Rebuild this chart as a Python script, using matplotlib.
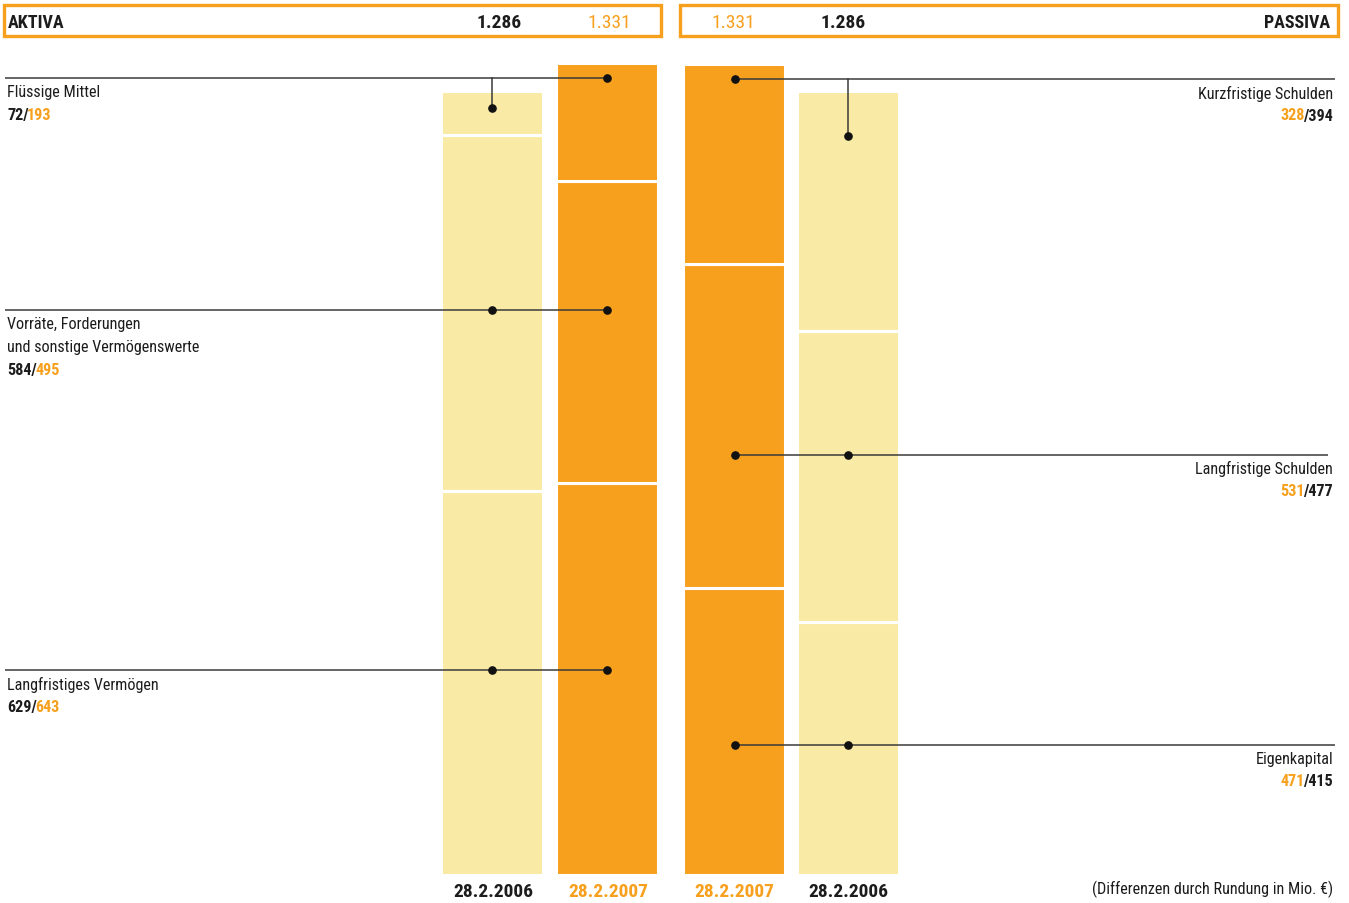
import matplotlib
matplotlib.use('Agg')
import matplotlib.pyplot as plt
from matplotlib.patches import Rectangle
from matplotlib import font_manager as fm

# ---------------- data ----------------
aktiva_items = ['Langfristiges Vermögen',
                'Vorräte, Forderungen\nund sonstige Vermögenswerte',
                'Flüssige Mittel']
aktiva_2006 = [629, 584, 72]
aktiva_2007 = [643, 495, 193]

passiva_items = ['Eigenkapital', 'Langfristige Schulden', 'Kurzfristige Schulden']
passiva_2007 = [471, 531, 328]
passiva_2006 = [415, 477, 394]

total_2006 = 1286
total_2007 = 1331
date_2006 = '28.2.2006'
date_2007 = '28.2.2007'
footer = '(Differenzen durch Rundung in Mio. €)'

# ---------------- style ----------------
W, H = 1349, 904
DPI = 100
ORANGE = '#F7A01D'
PALE = '#F9EBA5'
DARK = '#1c1c1c'
LINE = '#3a3a3a'

names = {f.name for f in fm.fontManager.ttflist}
cands = ['Roboto Condensed', 'Liberation Sans Narrow', 'Open Sans Condensed',
         'Noto Sans Condensed', 'DejaVu Sans']
FONT = [c for c in cands if c in names] or ['DejaVu Sans']
plt.rcParams['font.family'] = FONT
plt.rcParams['font.stretch'] = 'condensed'


def de(v):
    return f'{v:,}'.replace(',', '.')


fig = plt.figure(figsize=(W / DPI, H / DPI), dpi=DPI)
fig.patch.set_facecolor('white')

# bar axes: x in layout pixels, y in Mio. EUR
base_px = 876
px_per_unit = 0.61
ax = fig.add_axes([0, 0, 1, 1])
ax.set_xlim(0, W)
ax.set_ylim(-(H - base_px) / px_per_unit, base_px / px_per_unit)
ax.axis('off')

centers = [491.5, 606.5, 733.5, 847.5]
series = [(aktiva_2006, PALE), (aktiva_2007, ORANGE),
          (passiva_2007, ORANGE), (passiva_2006, PALE)]
for xc, (vals, col) in zip(centers, series):
    bottom = 0
    for v in vals:
        ax.bar(xc, v, bottom=bottom, width=102, color=col,
               edgecolor='white', linewidth=2.2, zorder=1)
        bottom += v

# overlay axes in pixel layout coords
lay = fig.add_axes([0, 0, 1, 1])
lay.set_xlim(0, W)
lay.set_ylim(H, 0)
lay.axis('off')
lay.patch.set_alpha(0)

# header boxes
for x0, x1 in [(3.5, 661), (680, 1338)]:
    lay.add_patch(Rectangle((x0, 5.5), x1 - x0, 31, fill=False,
                            edgecolor=ORANGE, linewidth=2.4))
hy = 23
HS = 14
WS = 13
lay.text(8, hy, 'AKTIVA', ha='left', va='center', fontsize=WS,
         fontweight='bold', color=DARK)
lay.text(499, hy, de(total_2006), ha='center', va='center', fontsize=HS,
         fontweight='bold', color=DARK)
lay.text(609, hy, de(total_2007), ha='center', va='center', fontsize=HS,
         color=ORANGE)
lay.text(733, hy, de(total_2007), ha='center', va='center', fontsize=HS,
         color=ORANGE)
lay.text(843, hy, de(total_2006), ha='center', va='center', fontsize=HS,
         fontweight='bold', color=DARK)
lay.text(1330, hy, 'PASSIVA', ha='right', va='center', fontsize=WS,
         fontweight='bold', color=DARK)

# date labels
DS = 14
for xc, lab, col in zip([493, 608, 734, 848],
                        [date_2006, date_2007, date_2007, date_2006],
                        [DARK, ORANGE, ORANGE, DARK]):
    lay.text(xc, 892, lab, ha='center', va='center', fontsize=DS,
             fontweight='bold', color=col)

LS = 11.6
lay.text(1333, 889.5, footer, ha='right', va='center', fontsize=LS, color=DARK)


def dot(x, y):
    lay.plot([x], [y], 'o', color='#111111', markersize=5.2, zorder=5)


def hline(x0, x1, y):
    lay.plot([x0, x1], [y, y], color=LINE, linewidth=1.1, zorder=4,
             solid_capstyle='butt')


def vline(x, y0, y1):
    lay.plot([x, x], [y0, y1], color=LINE, linewidth=1.1, zorder=4)


# ---- Aktiva callouts ----
akt_line_y = [670.5, 310.5, 78.5]
akt_dot2006_y = [670.5, 310.5, 109]
for name, v06, v07, ly, dy in zip(aktiva_items, aktiva_2006, aktiva_2007,
                                   akt_line_y, akt_dot2006_y):
    hline(5, 607, ly)
    if dy != ly:
        vline(492, ly, dy)
    dot(492, dy)
    dot(607, ly)
    nlines = name.count('\n') + 1
    ty = ly + 14
    for i, part in enumerate(name.split('\n')):
        lay.text(7, ty + 23 * i, part, ha='left', va='center', fontsize=LS,
                 color=DARK)
    vy = ty + 23 * nlines
    t1 = lay.text(7, vy, f'{v06}/', ha='left', va='center', fontsize=LS,
                  fontweight='bold', color=DARK)
    lay.annotate(f'{v07}', xy=(1, 0), xycoords=t1, xytext=(-1, 0),
                 textcoords='offset points', ha='left', va='bottom',
                 fontsize=LS, fontweight='bold', color=ORANGE)

# ---- Passiva callouts ----
pas_line_y = [746, 455.5, 80]
pas_dot2006_y = [746, 455.5, 137]
pas_line_end = [1335, 1328, 1335]
for name, v07, v06, ly, dy, xe in zip(passiva_items, passiva_2007, passiva_2006,
                                       pas_line_y, pas_dot2006_y, pas_line_end):
    hline(735, xe, ly)
    if dy != ly:
        vline(848, ly, dy)
    dot(848, dy)
    dot(735, ly)
    ty = ly + 13.5
    lay.text(1333, ty, name, ha='right', va='center', fontsize=LS, color=DARK)
    t2 = lay.text(1333, ty + 22.5, f'/{v06}', ha='right', va='center',
                  fontsize=LS, fontweight='bold', color=DARK)
    lay.annotate(f'{v07}', xy=(0, 0), xycoords=t2, xytext=(1, 0),
                 textcoords='offset points', ha='right', va='bottom',
                 fontsize=LS, fontweight='bold', color=ORANGE)

fig.savefig('out.png', dpi=DPI, facecolor='white')
